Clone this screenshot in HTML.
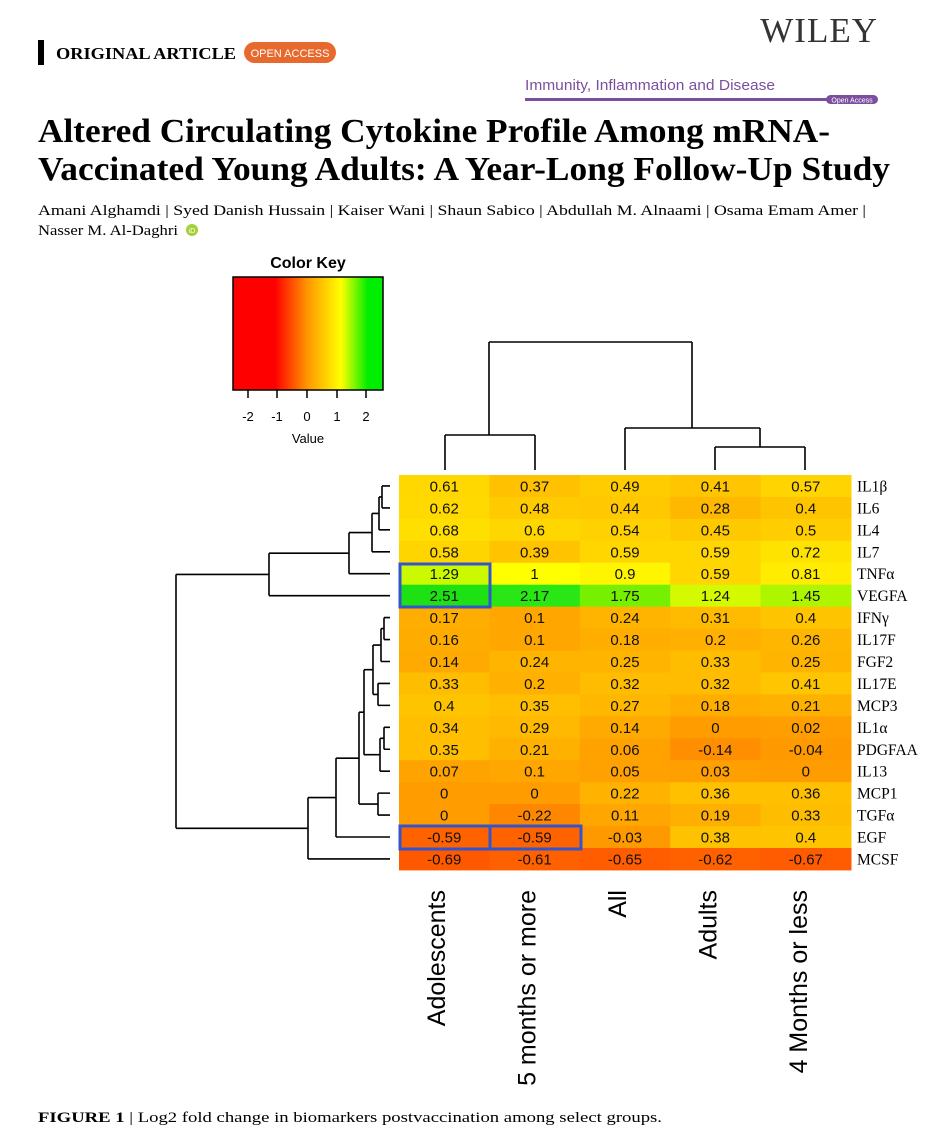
<!DOCTYPE html>
<html><head><meta charset="utf-8"><style>
body{margin:0;background:#fff;width:934px;height:1142px;overflow:hidden;font-family:"Liberation Serif",serif}
</style></head><body>
<svg width="934" height="1142" xmlns="http://www.w3.org/2000/svg">
<defs>
<linearGradient id="ck" x1="0" x2="1" y1="0" y2="0">
<stop offset="0" stop-color="#ff0000"/><stop offset="0.28" stop-color="#ff0000"/>
<stop offset="0.5" stop-color="#ff9900"/><stop offset="0.72" stop-color="#ffff00"/>
<stop offset="0.9" stop-color="#00ee00"/><stop offset="1" stop-color="#00ee00"/>
</linearGradient>
</defs>
<rect x="38" y="40" width="6" height="25" fill="#000"/>
<text x="56" y="59" font-family="Liberation Serif" font-weight="bold" font-size="17" textLength="180" lengthAdjust="spacingAndGlyphs">ORIGINAL ARTICLE</text>
<rect x="244" y="42" width="92" height="21" rx="10.5" fill="#e8692d"/>
<text x="290" y="57" text-anchor="middle" font-family="Liberation Sans" font-size="11" fill="#fff">OPEN ACCESS</text>
<text x="878" y="42" text-anchor="end" font-family="Liberation Serif" font-size="35" fill="#333" letter-spacing="1">WILEY</text>
<text x="525" y="90" font-family="Liberation Sans" font-size="15" fill="#7b4f9e" textLength="250" lengthAdjust="spacingAndGlyphs">Immunity, Inflammation and Disease</text>
<rect x="525" y="98" width="305" height="3" fill="#7b4f9e"/>
<rect x="826" y="95" width="52" height="9" rx="4.5" fill="#7b4f9e"/>
<text x="852" y="102.5" text-anchor="middle" font-family="Liberation Sans" font-size="7" fill="#fff">Open Access</text>
<text x="38" y="142" font-family="Liberation Serif" font-weight="bold" font-size="34" textLength="792" lengthAdjust="spacingAndGlyphs">Altered Circulating Cytokine Profile Among mRNA-</text>
<text x="38" y="180" font-family="Liberation Serif" font-weight="bold" font-size="34" textLength="852" lengthAdjust="spacingAndGlyphs">Vaccinated Young Adults: A Year-Long Follow-Up Study</text>
<text x="38" y="215" font-family="Liberation Serif" font-size="15" textLength="828" lengthAdjust="spacingAndGlyphs">Amani Alghamdi | Syed Danish Hussain | Kaiser Wani | Shaun Sabico | Abdullah M. Alnaami | Osama Emam Amer |</text>
<text x="38" y="235" font-family="Liberation Serif" font-size="15" textLength="140" lengthAdjust="spacingAndGlyphs">Nasser M. Al-Daghri</text>
<circle cx="192" cy="230" r="6" fill="#a6ce39"/>
<text x="192" y="233" text-anchor="middle" font-family="Liberation Sans" font-size="7" fill="#fff">iD</text>

<text x="308" y="268" text-anchor="middle" font-family="Liberation Sans" font-weight="bold" font-size="16">Color Key</text>
<rect x="233" y="277" width="150" height="113" fill="url(#ck)" stroke="#000" stroke-width="1.5"/>
<g stroke="#000" stroke-width="1.5"><line x1="248" y1="390" x2="248" y2="398"/><line x1="277" y1="390" x2="277" y2="398"/><line x1="307" y1="390" x2="307" y2="398"/><line x1="337" y1="390" x2="337" y2="398"/><line x1="366" y1="390" x2="366" y2="398"/></g>
<g font-family="Liberation Sans" font-size="13" text-anchor="middle"><text x="248" y="421">-2</text><text x="277" y="421">-1</text><text x="307" y="421">0</text><text x="337" y="421">1</text><text x="366" y="421">2</text><text x="308" y="443">Value</text></g>

<g id="hm"></g>
<g stroke="#000" stroke-width="1.6" fill="none" id="dg">
<path d="M489 342H692M445 435H535M445 470V435M535 470V435M489 435V342M625 428H760M625 470V428M692 428V342M715 447H805M715 470V447M805 470V447M760 447V428"/>
</g>
<g font-family="Liberation Sans" font-size="25" id="cl"></g>
<text x="38" y="1122" font-family="Liberation Serif" font-size="15" textLength="624" lengthAdjust="spacingAndGlyphs"><tspan font-weight="bold">FIGURE 1</tspan>    |    Log2 fold change in biomarkers postvaccination among select groups.</text>
</svg>
<script>
const rows=["IL1β","IL6","IL4","IL7","TNFα","VEGFA","IFNγ","IL17F","FGF2","IL17E","MCP3","IL1α","PDGFAA","IL13","MCP1","TGFα","EGF","MCSF"];
const d=[[0.61,0.37,0.49,0.41,0.57],[0.62,0.48,0.44,0.28,0.4],[0.68,0.6,0.54,0.45,0.5],[0.58,0.39,0.59,0.59,0.72],[1.29,1,0.9,0.59,0.81],[2.51,2.17,1.75,1.24,1.45],[0.17,0.1,0.24,0.31,0.4],[0.16,0.1,0.18,0.2,0.26],[0.14,0.24,0.25,0.33,0.25],[0.33,0.2,0.32,0.32,0.41],[0.4,0.35,0.27,0.18,0.21],[0.34,0.29,0.14,0,0.02],[0.35,0.21,0.06,-0.14,-0.04],[0.07,0.1,0.05,0.03,0],[0,0,0.22,0.36,0.36],[0,-0.22,0.11,0.19,0.33],[-0.59,-0.59,-0.03,0.38,0.4],[-0.69,-0.61,-0.65,-0.62,-0.67]];
function col(v){let r,g;if(v<=1){r=255;g=Math.max(0,Math.min(255,255*(v+1.6)/2.6));}else{r=Math.max(30,255*(1-(v-1)/1.4));g=Math.max(225,255-(v-1)*20);}return `rgb(${r|0},${g|0},${v>1.8?20:0})`;}
let s="";const X0=399,Y0=475,W=90.4,H=21.94;
d.forEach((r,i)=>{r.forEach((v,j)=>{s+=`<rect x="${X0+j*W}" y="${Y0+i*H}" width="${W+0.5}" height="${H+0.5}" fill="${col(v)}"/>`;s+=`<text x="${X0+j*W+W/2}" y="${Y0+i*H+H/2+5.5}" text-anchor="middle" font-family="Liberation Sans" font-size="15" fill="#111">${v}</text>`;});
s+=`<text x="857" y="${Y0+i*H+H/2+5.5}" font-family="Liberation Serif" font-size="15.5">${rows[i]}</text>`;});
s+=`<g fill="none" stroke="#3355cc" stroke-width="3"><rect x="400" y="564" width="90" height="43"/><rect x="400" y="826" width="90" height="23"/><rect x="490" y="826" width="91" height="23"/></g>`;
document.getElementById("hm").innerHTML=s;
const c=i=>Y0+H*(i+0.5);
let p="";function j(x,y1,y2,lx1,lx2){p+=`M${x} ${y1}V${y2}M${x} ${y1}H${lx1}M${x} ${y2}H${lx2}`;}
j(382,c(0),c(1),390,390);let A=(c(0)+c(1))/2;
j(379,A,c(2),382,390);let B=(A+c(2))/2;
j(372,B,c(3),379,390);let C=(B+c(3))/2;
j(349,C,c(4),372,390);let D=(C+c(4))/2;
j(269,D,c(5),349,390);let E=(D+c(5))/2;
j(384,c(6),c(7),390,390);let F=(c(6)+c(7))/2;
j(381,F,c(8),384,390);let G=(F+c(8))/2;
j(378,c(9),c(10),390,390);let Hh=(c(9)+c(10))/2;
j(373,G,Hh,381,378);let I=(G+Hh)/2;
j(384,c(11),c(12),390,390);let J=(c(11)+c(12))/2;
j(380,J,c(13),384,390);let K=(J+c(13))/2;
j(364,I,K,373,380);let L=(I+K)/2;
j(378,c(14),c(15),390,390);let M=(c(14)+c(15))/2;
j(359,L,M,364,378);let N=(L+M)/2;
j(336,N,c(16),359,390);let O=(N+c(16))/2;
j(308,O,c(17),336,390);let P=(O+c(17))/2;
j(176,E,P,269,308);
document.getElementById("dg").innerHTML+=`<path d="${p}"/>`;
const cl=["Adolescents","5 months or more","All","Adults","4 Months or less"];
let t="";cl.forEach((n,i)=>{const x=X0+W*(i+0.5)+1;t+=`<text transform="translate(${x},890) rotate(-90)" text-anchor="end">${n}</text>`;});
document.getElementById("cl").innerHTML=t;
</script>
</body></html>
